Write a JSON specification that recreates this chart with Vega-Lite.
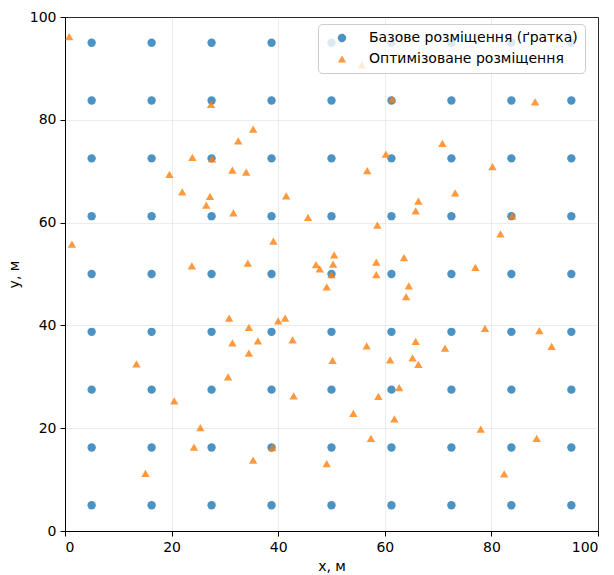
{
  "$schema": "https://vega.github.io/schema/vega-lite/v6.json",
  "width": 533,
  "height": 514,
  "autosize": {"type": "none"},
  "padding": {"left": 65, "top": 17, "right": 16, "bottom": 44},
  "background": "white",
  "config": {
    "font": "DejaVu Sans",
    "view": {"stroke": "black", "strokeWidth": 1},
    "axis": {
      "labelFont": "DejaVu Sans", "titleFont": "DejaVu Sans",
      "labelFontSize": 14, "titleFontSize": 14, "titleFontWeight": "normal",
      "labelColor": "black", "titleColor": "black",
      "domainColor": "black", "tickColor": "black", "tickSize": 5,
      "gridColor": "#b0b0b0", "gridOpacity": 0.3, "gridWidth": 0.8
    }
  },
  "data": {
    "values": [
      {"x":5,"y":5,"s":"Базове розміщення (ґратка)"},{"x":5,"y":16.25,"s":"Базове розміщення (ґратка)"},{"x":5,"y":27.5,"s":"Базове розміщення (ґратка)"},{"x":5,"y":38.75,"s":"Базове розміщення (ґратка)"},{"x":5,"y":50,"s":"Базове розміщення (ґратка)"},{"x":5,"y":61.25,"s":"Базове розміщення (ґратка)"},{"x":5,"y":72.5,"s":"Базове розміщення (ґратка)"},{"x":5,"y":83.75,"s":"Базове розміщення (ґратка)"},{"x":5,"y":95,"s":"Базове розміщення (ґратка)"},
      {"x":16.25,"y":5,"s":"Базове розміщення (ґратка)"},{"x":16.25,"y":16.25,"s":"Базове розміщення (ґратка)"},{"x":16.25,"y":27.5,"s":"Базове розміщення (ґратка)"},{"x":16.25,"y":38.75,"s":"Базове розміщення (ґратка)"},{"x":16.25,"y":50,"s":"Базове розміщення (ґратка)"},{"x":16.25,"y":61.25,"s":"Базове розміщення (ґратка)"},{"x":16.25,"y":72.5,"s":"Базове розміщення (ґратка)"},{"x":16.25,"y":83.75,"s":"Базове розміщення (ґратка)"},{"x":16.25,"y":95,"s":"Базове розміщення (ґратка)"},
      {"x":27.5,"y":5,"s":"Базове розміщення (ґратка)"},{"x":27.5,"y":16.25,"s":"Базове розміщення (ґратка)"},{"x":27.5,"y":27.5,"s":"Базове розміщення (ґратка)"},{"x":27.5,"y":38.75,"s":"Базове розміщення (ґратка)"},{"x":27.5,"y":50,"s":"Базове розміщення (ґратка)"},{"x":27.5,"y":61.25,"s":"Базове розміщення (ґратка)"},{"x":27.5,"y":72.5,"s":"Базове розміщення (ґратка)"},{"x":27.5,"y":83.75,"s":"Базове розміщення (ґратка)"},{"x":27.5,"y":95,"s":"Базове розміщення (ґратка)"},
      {"x":38.75,"y":5,"s":"Базове розміщення (ґратка)"},{"x":38.75,"y":16.25,"s":"Базове розміщення (ґратка)"},{"x":38.75,"y":27.5,"s":"Базове розміщення (ґратка)"},{"x":38.75,"y":38.75,"s":"Базове розміщення (ґратка)"},{"x":38.75,"y":50,"s":"Базове розміщення (ґратка)"},{"x":38.75,"y":61.25,"s":"Базове розміщення (ґратка)"},{"x":38.75,"y":72.5,"s":"Базове розміщення (ґратка)"},{"x":38.75,"y":83.75,"s":"Базове розміщення (ґратка)"},{"x":38.75,"y":95,"s":"Базове розміщення (ґратка)"},
      {"x":50,"y":5,"s":"Базове розміщення (ґратка)"},{"x":50,"y":16.25,"s":"Базове розміщення (ґратка)"},{"x":50,"y":27.5,"s":"Базове розміщення (ґратка)"},{"x":50,"y":38.75,"s":"Базове розміщення (ґратка)"},{"x":50,"y":50,"s":"Базове розміщення (ґратка)"},{"x":50,"y":61.25,"s":"Базове розміщення (ґратка)"},{"x":50,"y":72.5,"s":"Базове розміщення (ґратка)"},{"x":50,"y":83.75,"s":"Базове розміщення (ґратка)"},{"x":50,"y":95,"s":"Базове розміщення (ґратка)"},
      {"x":61.25,"y":5,"s":"Базове розміщення (ґратка)"},{"x":61.25,"y":16.25,"s":"Базове розміщення (ґратка)"},{"x":61.25,"y":27.5,"s":"Базове розміщення (ґратка)"},{"x":61.25,"y":38.75,"s":"Базове розміщення (ґратка)"},{"x":61.25,"y":50,"s":"Базове розміщення (ґратка)"},{"x":61.25,"y":61.25,"s":"Базове розміщення (ґратка)"},{"x":61.25,"y":72.5,"s":"Базове розміщення (ґратка)"},{"x":61.25,"y":83.75,"s":"Базове розміщення (ґратка)"},{"x":61.25,"y":95,"s":"Базове розміщення (ґратка)"},
      {"x":72.5,"y":5,"s":"Базове розміщення (ґратка)"},{"x":72.5,"y":16.25,"s":"Базове розміщення (ґратка)"},{"x":72.5,"y":27.5,"s":"Базове розміщення (ґратка)"},{"x":72.5,"y":38.75,"s":"Базове розміщення (ґратка)"},{"x":72.5,"y":50,"s":"Базове розміщення (ґратка)"},{"x":72.5,"y":61.25,"s":"Базове розміщення (ґратка)"},{"x":72.5,"y":72.5,"s":"Базове розміщення (ґратка)"},{"x":72.5,"y":83.75,"s":"Базове розміщення (ґратка)"},{"x":72.5,"y":95,"s":"Базове розміщення (ґратка)"},
      {"x":83.75,"y":5,"s":"Базове розміщення (ґратка)"},{"x":83.75,"y":16.25,"s":"Базове розміщення (ґратка)"},{"x":83.75,"y":27.5,"s":"Базове розміщення (ґратка)"},{"x":83.75,"y":38.75,"s":"Базове розміщення (ґратка)"},{"x":83.75,"y":50,"s":"Базове розміщення (ґратка)"},{"x":83.75,"y":61.25,"s":"Базове розміщення (ґратка)"},{"x":83.75,"y":72.5,"s":"Базове розміщення (ґратка)"},{"x":83.75,"y":83.75,"s":"Базове розміщення (ґратка)"},{"x":83.75,"y":95,"s":"Базове розміщення (ґратка)"},
      {"x":95,"y":5,"s":"Базове розміщення (ґратка)"},{"x":95,"y":16.25,"s":"Базове розміщення (ґратка)"},{"x":95,"y":27.5,"s":"Базове розміщення (ґратка)"},{"x":95,"y":38.75,"s":"Базове розміщення (ґратка)"},{"x":95,"y":50,"s":"Базове розміщення (ґратка)"},{"x":95,"y":61.25,"s":"Базове розміщення (ґратка)"},{"x":95,"y":72.5,"s":"Базове розміщення (ґратка)"},{"x":95,"y":83.75,"s":"Базове розміщення (ґратка)"},{"x":95,"y":95,"s":"Базове розміщення (ґратка)"},
      {"x":0.8,"y":96.2,"s":"Оптимізоване розміщення"},{"x":27.4,"y":83.0,"s":"Оптимізоване розміщення"},{"x":35.3,"y":78.2,"s":"Оптимізоване розміщення"},{"x":32.5,"y":75.9,"s":"Оптимізоване розміщення"},{"x":23.9,"y":72.7,"s":"Оптимізоване розміщення"},{"x":27.6,"y":72.4,"s":"Оптимізоване розміщення"},{"x":19.6,"y":69.4,"s":"Оптимізоване розміщення"},{"x":31.4,"y":70.2,"s":"Оптимізоване розміщення"},{"x":34.0,"y":69.8,"s":"Оптимізоване розміщення"},{"x":22.0,"y":66.0,"s":"Оптимізоване розміщення"},
      {"x":27.2,"y":65.1,"s":"Оптимізоване розміщення"},{"x":26.5,"y":63.4,"s":"Оптимізоване розміщення"},{"x":31.6,"y":61.9,"s":"Оптимізоване розміщення"},{"x":41.5,"y":65.2,"s":"Оптимізоване розміщення"},{"x":45.6,"y":61.0,"s":"Оптимізоване розміщення"},{"x":1.3,"y":55.8,"s":"Оптимізоване розміщення"},{"x":39.1,"y":56.4,"s":"Оптимізоване розміщення"},{"x":23.8,"y":51.6,"s":"Оптимізоване розміщення"},{"x":34.3,"y":52.1,"s":"Оптимізоване розміщення"},{"x":47.1,"y":51.8,"s":"Оптимізоване розміщення"},
      {"x":47.8,"y":51.0,"s":"Оптимізоване розміщення"},{"x":50.5,"y":53.7,"s":"Оптимізоване розміщення"},{"x":50.3,"y":51.9,"s":"Оптимізоване розміщення"},{"x":50.0,"y":49.9,"s":"Оптимізоване розміщення"},{"x":55.7,"y":90.7,"s":"Оптимізоване розміщення"},{"x":61.4,"y":84.0,"s":"Оптимізоване розміщення"},{"x":88.2,"y":83.5,"s":"Оптимізоване розміщення"},{"x":70.8,"y":75.4,"s":"Оптимізоване розміщення"},{"x":60.2,"y":73.3,"s":"Оптимізоване розміщення"},{"x":56.7,"y":70.1,"s":"Оптимізоване розміщення"},
      {"x":80.2,"y":70.9,"s":"Оптимізоване розміщення"},{"x":73.2,"y":65.8,"s":"Оптимізоване розміщення"},{"x":66.3,"y":64.2,"s":"Оптимізоване розміщення"},{"x":65.8,"y":62.3,"s":"Оптимізоване розміщення"},{"x":83.9,"y":61.3,"s":"Оптимізоване розміщення"},{"x":58.6,"y":59.5,"s":"Оптимізоване розміщення"},{"x":81.7,"y":57.8,"s":"Оптимізоване розміщення"},{"x":58.4,"y":52.3,"s":"Оптимізоване розміщення"},{"x":63.6,"y":53.2,"s":"Оптимізоване розміщення"},{"x":77.0,"y":51.3,"s":"Оптимізоване розміщення"},
      {"x":58.4,"y":49.9,"s":"Оптимізоване розміщення"},{"x":64.5,"y":47.7,"s":"Оптимізоване розміщення"},{"x":64.0,"y":45.6,"s":"Оптимізоване розміщення"},{"x":78.8,"y":39.4,"s":"Оптимізоване розміщення"},{"x":89.0,"y":39.0,"s":"Оптимізоване розміщення"},{"x":91.3,"y":35.9,"s":"Оптимізоване розміщення"},{"x":56.6,"y":36.0,"s":"Оптимізоване розміщення"},{"x":65.8,"y":36.9,"s":"Оптимізоване розміщення"},{"x":71.3,"y":35.6,"s":"Оптимізоване розміщення"},{"x":50.2,"y":33.2,"s":"Оптимізоване розміщення"},
      {"x":61.0,"y":33.3,"s":"Оптимізоване розміщення"},{"x":65.2,"y":33.7,"s":"Оптимізоване розміщення"},{"x":66.3,"y":32.4,"s":"Оптимізоване розміщення"},{"x":62.7,"y":27.9,"s":"Оптимізоване розміщення"},{"x":58.8,"y":26.2,"s":"Оптимізоване розміщення"},{"x":54.1,"y":22.9,"s":"Оптимізоване розміщення"},{"x":61.8,"y":21.8,"s":"Оптимізоване розміщення"},{"x":78.0,"y":19.8,"s":"Оптимізоване розміщення"},{"x":57.4,"y":18.0,"s":"Оптимізоване розміщення"},{"x":88.5,"y":18.0,"s":"Оптимізоване розміщення"},
      {"x":82.4,"y":11.1,"s":"Оптимізоване розміщення"},{"x":49.1,"y":47.5,"s":"Оптимізоване розміщення"},{"x":30.8,"y":41.4,"s":"Оптимізоване розміщення"},{"x":34.5,"y":39.6,"s":"Оптимізоване розміщення"},{"x":40.0,"y":40.9,"s":"Оптимізоване розміщення"},{"x":41.3,"y":41.4,"s":"Оптимізоване розміщення"},{"x":31.4,"y":36.6,"s":"Оптимізоване розміщення"},{"x":36.2,"y":37.0,"s":"Оптимізоване розміщення"},{"x":34.5,"y":34.6,"s":"Оптимізоване розміщення"},{"x":42.7,"y":37.2,"s":"Оптимізоване розміщення"},
      {"x":13.4,"y":32.5,"s":"Оптимізоване розміщення"},{"x":30.6,"y":30.0,"s":"Оптимізоване розміщення"},{"x":42.9,"y":26.3,"s":"Оптимізоване розміщення"},{"x":20.5,"y":25.3,"s":"Оптимізоване розміщення"},{"x":25.4,"y":20.1,"s":"Оптимізоване розміщення"},{"x":24.2,"y":16.3,"s":"Оптимізоване розміщення"},{"x":38.9,"y":16.2,"s":"Оптимізоване розміщення"},{"x":35.3,"y":13.8,"s":"Оптимізоване розміщення"},{"x":49.1,"y":13.1,"s":"Оптимізоване розміщення"},{"x":15.1,"y":11.2,"s":"Оптимізоване розміщення"}
    ]
  },
  "mark": {"type": "point", "filled": true, "opacity": 0.8, "strokeWidth": 0},
  "encoding": {
    "x": {"field": "x", "type": "quantitative", "title": "x, м",
      "scale": {"domain": [0, 100], "nice": false, "zero": false},
      "axis": {"values": [0, 20, 40, 60, 80, 100], "titlePadding": 5, "labelPadding": 4}},
    "y": {"field": "y", "type": "quantitative", "title": "y, м",
      "scale": {"domain": [0, 100], "nice": false, "zero": false},
      "axis": {"values": [0, 20, 40, 60, 80, 100], "titlePadding": 8, "labelPadding": 4}},
    "color": {"field": "s", "type": "nominal",
      "scale": {"domain": ["Базове розміщення (ґратка)", "Оптимізоване розміщення"], "range": ["#1f77b4", "#ff7f0e"]},
      "legend": {"title": null, "orient": "none", "legendX": 253, "legendY": 7, "zindex": 2,
        "fillColor": "rgba(255,255,255,0.8)", "strokeColor": "#cccccc", "cornerRadius": 4,
        "padding": 7, "labelFontSize": 14, "labelFont": "DejaVu Sans", "labelColor": "black",
        "labelLimit": 0, "symbolSize": 70, "symbolOpacity": 0.8, "symbolStrokeWidth": 0,
        "rowPadding": 7, "labelOffset": 20, "symbolOffset": 10}},
    "shape": {"field": "s", "type": "nominal",
      "scale": {"domain": ["Базове розміщення (ґратка)", "Оптимізоване розміщення"], "range": ["circle", "triangle-up"]},
      "legend": null},
    "size": {"value": 70}
  }
}
